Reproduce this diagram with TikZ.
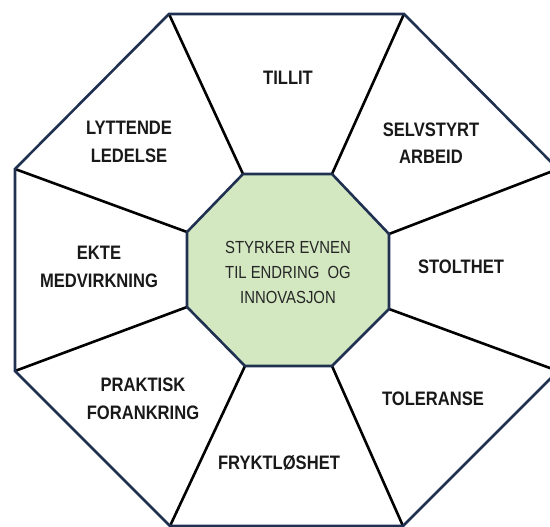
\documentclass[tikz,border=0pt]{standalone}
\usepackage{fontspec}
\newfontfamily\narrowsans[FakeStretch=0.85]{Liberation Sans}
\definecolor{navy}{HTML}{1F3050}
\definecolor{palegreen}{HTML}{D3E8C1}
\tikzset{
  rim/.style={draw=navy, line width=2.6pt, line join=miter},
  spoke/.style={draw=black, line width=2.6pt},
  hub/.style={draw=navy, fill=palegreen, line width=2.6pt, line join=miter},
  label/.style={font=\narrowsans\bfseries\fontsize{19.5}{27.5}\selectfont, align=center, text=black!90, inner sep=0pt},
  core/.style={font=\narrowsans\fontsize{17.5}{25}\selectfont, align=center, text=black!85, inner sep=0pt}
}
\begin{document}
\begin{tikzpicture}[x=1pt, y=-1pt]
\useasboundingbox (0,0) rectangle (550,527);
\clip (0,0) rectangle (550,527);
% outer octagon corners
\coordinate (o1) at (169,14);
\coordinate (o2) at (404,14);
\coordinate (o3) at (558,169);
\coordinate (o4) at (558,371);
\coordinate (o5) at (403,526);
\coordinate (o6) at (170,526);
\coordinate (o7) at (15,371);
\coordinate (o8) at (15,169);
% inner octagon corners
\coordinate (i1) at (243,174);
\coordinate (i2) at (332,174);
\coordinate (i3) at (389,234);
\coordinate (i4) at (389,309);
\coordinate (i5) at (332,366);
\coordinate (i6) at (245,366);
\coordinate (i7) at (187,307);
\coordinate (i8) at (187,232);
% spokes
\foreach \k in {1,...,8} \draw[spoke] (i\k) -- (o\k);
% outer rim
\draw[rim] (o1) -- (o2) -- (o3) -- (o4) -- (o5) -- (o6) -- (o7) -- (o8) -- cycle;
% centre
\draw[hub] (i1) -- (i2) -- (i3) -- (i4) -- (i5) -- (i6) -- (i7) -- (i8) -- cycle;
\node[core] (centre) at (288,272) {STYRKER EVNEN\\TIL ENDRING\ \ OG\\INNOVASJON};
% segment labels
\node[label] (tillit) at (288,78) {TILLIT};
\node[label] (selvstyrt) at (431,143) {SELVSTYRT\\ARBEID};
\node[label] (stolthet) at (461,267) {STOLTHET};
\node[label] (toleranse) at (433,399) {TOLERANSE};
\node[label] (fryktloshet) at (279,463) {FRYKTLØSHET};
\node[label] (praktisk) at (143,399) {PRAKTISK\\FORANKRING};
\node[label] (ekte) at (99,267) {EKTE\\MEDVIRKNING};
\node[label] (lyttende) at (129,142) {LYTTENDE\\LEDELSE};
\end{tikzpicture}
\end{document}
